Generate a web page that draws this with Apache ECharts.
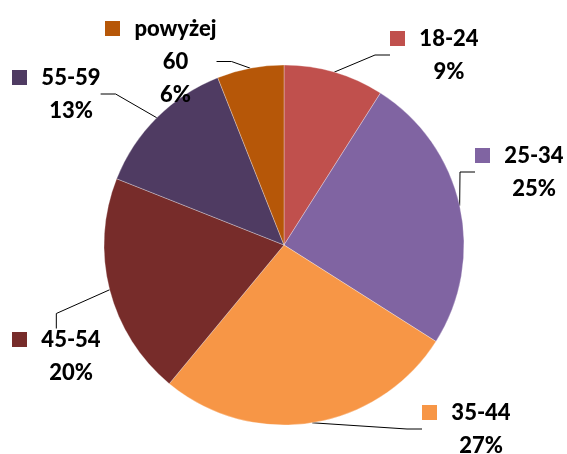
<!DOCTYPE html>
<html>
<head>
<meta charset="utf-8">
<script src="https://cdn.jsdelivr.net/npm/echarts@6/dist/echarts.min.js"></script>
<style>
  html, body { margin: 0; padding: 0; background: #fff; }
  #chart { width: 567px; height: 454px; }
</style>
</head>
<body>
<div id="chart"></div>
<script>
// grupy wiekowe
const categories = ['18-24', '25-34', '35-44', '45-54', '55-59', 'powyżej 60']
const values = [9, 25, 27, 20, 13, 6]
const colors = ['#C0504D', '#8064A2', '#F79646', '#772C2A', '#4F3B62', '#B65708']

// lewy-górny róg etykiet
const labelPos = [
  [390, 22],
  [475, 139],
  [422, 396],
  [12, 323],
  [12, 61],
  [105, 12]
]

const myChart = echarts.init(document.getElementById('chart'))

const FONT = '900 22px Lato'
const ctx = document.createElement('canvas').getContext('2d')
ctx.font = FONT
const measure = (t) => Math.ceil(ctx.measureText(t).width)

const total = values.reduce((a, b) => a + b, 0)

// nazwy dzielone na linie (długie łamane na spacji)
const splitName = (name) => name.length > 6 ? name.split(' ') : [name]

const rich = {
  g: { width: 14, lineHeight: 33 },
  s: { width: 29, lineHeight: 33 },
  n: {
    fontFamily: 'Lato',
    fontWeight: 900,
    fontSize: 22,
    color: '#000',
    lineHeight: 33,
    align: 'center'
  }
}
colors.forEach((c, i) => {
  rich['m' + i] = { width: 15, height: 15, backgroundColor: c, lineHeight: 33 }
})

const option = {
  animation: false,
  series: [
    {
      type: 'pie',
      center: [284, 245],
      radius: 180,
      startAngle: 90,
      clockwise: true,
      itemStyle: {
        borderColor: 'rgba(255,255,255,0.6)',
        borderWidth: 0.5
      },
      label: {
        show: true,
        position: 'outside',
        overflow: 'none',
        formatter: (p) => {
          const parts = splitName(p.name)
          let s = '{m' + p.dataIndex + '|}{g|}{n|' + parts[0] + '}'
          for (let k = 1; k < parts.length; k++) {
            s += '\n{s|}{n|' + parts[k] + '}'
          }
          s += '\n{s|}{n|' + Math.round(p.percent) + '%}'
          return s
        },
        rich
      },
      labelLine: {
        show: true,
        length: 15,
        length2: 15,
        lineStyle: { color: '#000', width: 1 }
      },
      labelLayout: (params) => {
        const pos = labelPos[params.dataIndex]
        return {
          x: pos[0],
          y: pos[1],
          align: 'left',
          verticalAlign: 'top'
        }
      },
      data: categories.map((name, i) => {
        const lines = splitName(name).concat([Math.round(values[i] / total * 100) + '%'])
        const w = 29 + Math.max(...lines.map(measure))
        return {
          name,
          value: values[i],
          itemStyle: { color: colors[i] },
          label: { width: w }
        }
      })
    }
  ]
}

myChart.setOption(option)
</script>
</body>
</html>
